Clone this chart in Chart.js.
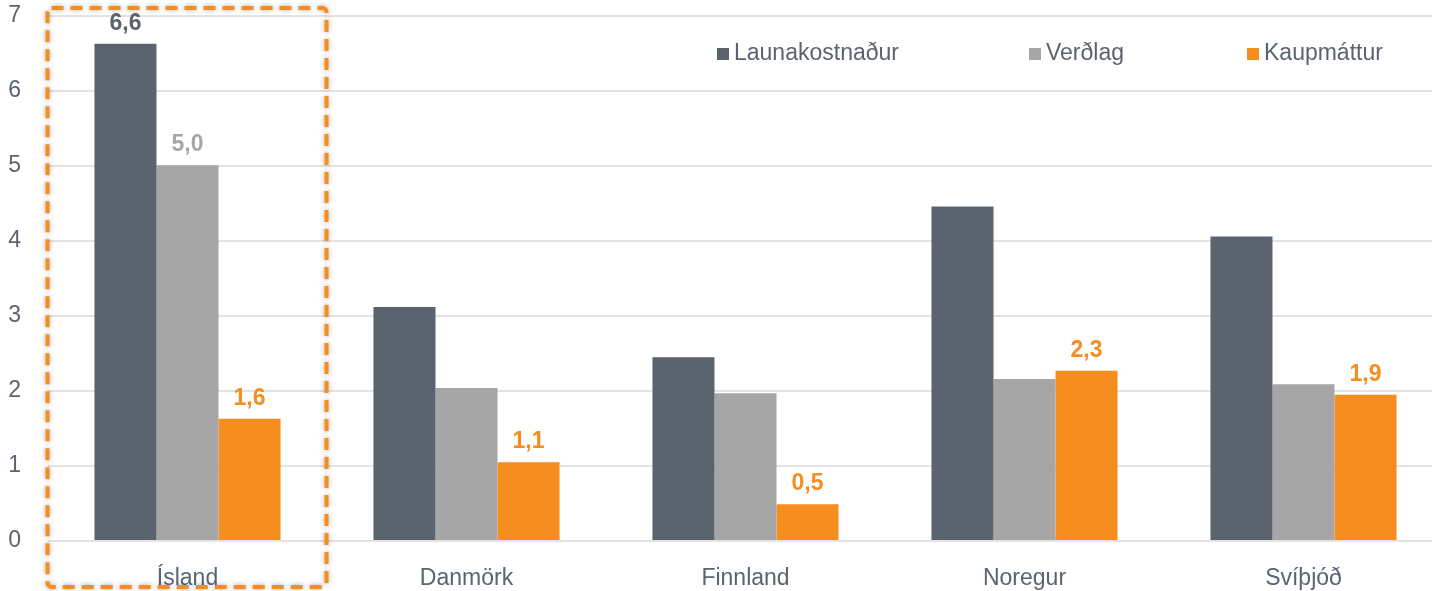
<!DOCTYPE html>
<html>
<head>
<meta charset="utf-8">
<script src="https://cdn.jsdelivr.net/npm/chart.js@4"></script>
<style>
  html, body { margin: 0; padding: 0; background: #fff; overflow: hidden; }
  #wrap { width: 1443px; height: 591px; }
</style>
</head>
<body>
<div id="wrap"><canvas id="graf" width="1443" height="591"></canvas></div>
<script>
// Gögn
const lond = ['Ísland', 'Danmörk', 'Finnland', 'Noregur', 'Svíþjóð'];
const launakostnadur = [6.63, 3.12, 2.45, 4.46, 4.06];
const verdlag = [5.01, 2.04, 1.97, 2.16, 2.09];
const kaupmattur = [1.63, 1.05, 0.49, 2.27, 1.95];
const yTikk = [0, 1, 2, 3, 4, 5, 6, 7];

const litir = ['#5b646e', '#a6a6a6', '#f58d1f'];
const textalitur = '#5b646e';
const letur = '"Liberation Sans", Arial, sans-serif';

// Hvaða súlur fá gildismerki
const merkja = [[0], [0], [0, 1, 2, 3, 4]];

const merkiPlugin = {
  id: 'merki',
  afterDatasetsDraw(chart) {
    const ctx = chart.ctx;
    ctx.save();
    ctx.font = 'bold 23px ' + letur;
    ctx.textAlign = 'center';
    ctx.textBaseline = 'alphabetic';
    chart.data.datasets.forEach((ds, i) => {
      const meta = chart.getDatasetMeta(i);
      merkja[i].forEach(j => {
        const bar = meta.data[j];
        ctx.fillStyle = ds.backgroundColor;
        ctx.fillText(ds.data[j].toFixed(1).replace('.', ','), bar.x, bar.y - 14);
      });
    });
    ctx.restore();
  }
};

// Skýringar inni í teiknisvæðinu
const skyringPlugin = {
  id: 'skyring',
  afterDraw(chart) {
    const ctx = chart.ctx;
    const stadir = [717, 1029, 1247];
    ctx.save();
    ctx.font = '23px ' + letur;
    ctx.textBaseline = 'middle';
    chart.data.datasets.forEach((ds, i) => {
      ctx.fillStyle = ds.backgroundColor;
      ctx.fillRect(stadir[i], 48, 12, 12);
      ctx.fillStyle = textalitur;
      ctx.fillText(ds.label, stadir[i] + 17, 54);
    });
    ctx.restore();
  }
};

// Strikaður rammi utan um Ísland
const rammiPlugin = {
  id: 'rammi',
  afterDraw(chart) {
    const ctx = chart.ctx;
    const x = chart.scales.x;
    const breidd = x.width / lond.length;
    const midja = x.getPixelForValue(0);
    const l = midja - breidd / 2 - 0.5, r = midja + breidd / 2 - 0.5;
    const t = 8, b = 587;
    ctx.save();
    ctx.shadowColor = 'rgba(0,0,0,0.35)';
    ctx.shadowBlur = 5;
    ctx.strokeStyle = '#f58d1f';
    ctx.lineWidth = 4;
    ctx.setLineDash([12, 7]);
    ctx.beginPath();
    ctx.roundRect(l, t, r - l, b - t, 4);
    ctx.stroke();
    ctx.restore();
  }
};

new Chart(document.querySelector('#graf'), {
  type: 'bar',
  data: {
    labels: lond,
    datasets: [
      { label: 'Launakostnaður', data: launakostnadur, backgroundColor: litir[0] },
      { label: 'Verðlag', data: verdlag, backgroundColor: litir[1] },
      { label: 'Kaupmáttur', data: kaupmattur, backgroundColor: litir[2] }
    ]
  },
  options: {
    responsive: false,
    devicePixelRatio: 1,
    animation: false,
    layout: { padding: { top: 16, right: 0, left: 0, bottom: 0 } },
    datasets: {
      bar: { categoryPercentage: 0.667, barPercentage: 1, borderWidth: 0 }
    },
    plugins: {
      legend: { display: false },
      tooltip: { enabled: false }
    },
    scales: {
      x: {
        grid: { display: false },
        border: { display: false },
        ticks: { color: textalitur, font: { family: letur, size: 23 }, padding: 16 },
        afterFit(s) { s.height = 50; s.paddingLeft = 0; s.paddingRight = 0; }
      },
      y: {
        min: 0,
        max: 7,
        afterBuildTicks(s) { s.ticks = yTikk.map(v => ({ value: v })); },
        grid: { color: '#e3e3e3', lineWidth: 2, drawTicks: false },
        border: { display: false },
        ticks: { color: textalitur, font: { family: letur, size: 23 }, padding: 27, crossAlign: 'center' },
        afterFit(s) { s.width = 48; s.paddingTop = 0; s.paddingBottom = 0; }
      }
    }
  },
  plugins: [merkiPlugin, skyringPlugin, rammiPlugin]
});
</script>
</body>
</html>
